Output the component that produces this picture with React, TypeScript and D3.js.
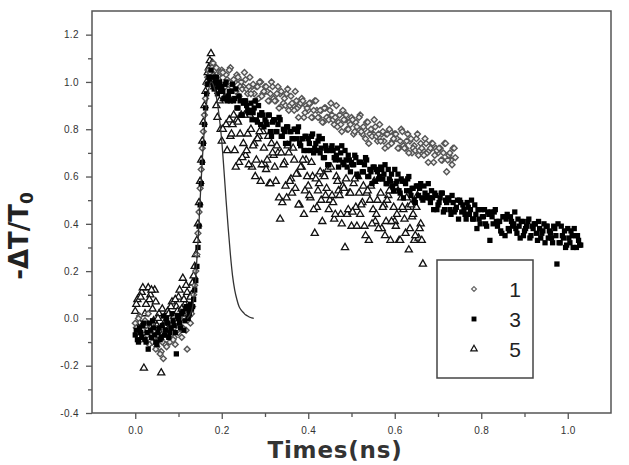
import React, { useEffect, useRef } from "react";
import * as d3 from "d3";

// sampling times (ns) of the first pass, shared by the three scans
const times = [
  0, 0.005, 0.01, 0.015, 0.02, 0.025, 0.03, 0.035, 0.04, 0.045,
  0.05, 0.055, 0.06, 0.065, 0.07, 0.075, 0.08, 0.085, 0.09, 0.095,
  0.1, 0.105, 0.11, 0.115, 0.12, 0.125, 0.13, 0.135, 0.14, 0.145,
  0.15, 0.155, 0.16, 0.165, 0.17, 0.175, 0.18, 0.185, 0.19, 0.195,
  0.2, 0.205, 0.21, 0.215, 0.22, 0.225, 0.23, 0.235, 0.24, 0.245,
  0.25, 0.255, 0.26, 0.265, 0.27, 0.275, 0.28, 0.285, 0.29, 0.295,
  0.3, 0.305, 0.31, 0.315, 0.32, 0.325, 0.33, 0.335, 0.34, 0.345,
  0.35, 0.355, 0.36, 0.365, 0.37, 0.375, 0.38, 0.385, 0.39, 0.395,
  0.4, 0.405, 0.41, 0.415, 0.42, 0.425, 0.43, 0.435, 0.44, 0.445,
  0.45, 0.455, 0.46, 0.465, 0.47, 0.475, 0.48, 0.485, 0.49, 0.495,
  0.5, 0.505, 0.51, 0.515, 0.52, 0.525, 0.53, 0.535, 0.54, 0.545,
  0.55, 0.555, 0.56, 0.565, 0.57, 0.575, 0.58, 0.585, 0.59, 0.595,
  0.6, 0.605, 0.61, 0.615, 0.62, 0.625, 0.63, 0.635, 0.64, 0.645,
  0.65, 0.655, 0.66, 0.665, 0.67, 0.675, 0.68, 0.685, 0.69, 0.695,
  0.7, 0.705, 0.71, 0.715, 0.72, 0.725, 0.73, 0.735, 0.74, 0.745,
  0.75, 0.755, 0.76, 0.765, 0.77, 0.775, 0.78, 0.785, 0.79, 0.795,
  0.8, 0.805, 0.81, 0.815, 0.82, 0.825, 0.83, 0.835, 0.84, 0.845,
  0.85, 0.855, 0.86, 0.865, 0.87, 0.875, 0.88, 0.885, 0.89, 0.895,
  0.9, 0.905, 0.91, 0.915, 0.92, 0.925, 0.93, 0.935, 0.94, 0.945,
  0.95, 0.955, 0.96, 0.965, 0.97, 0.975, 0.98, 0.985, 0.99, 0.995,
  1, 1.005, 1.01, 1.015, 1.02, 1.025, 1.03,
];

// sampling times of the second pass (interleaved)
const times2 = [
  0.0025, 0.0075, 0.0125, 0.0175, 0.0225, 0.0275, 0.0325, 0.0375, 0.0425, 0.0475,
  0.0525, 0.0575, 0.0625, 0.0675, 0.0725, 0.0775, 0.0825, 0.0875, 0.0925, 0.0975,
  0.1025, 0.1075, 0.1125, 0.1175, 0.1225, 0.1275, 0.1325, 0.1375, 0.1425, 0.1475,
  0.1525, 0.1575, 0.1625, 0.1675, 0.1725, 0.1775, 0.1825, 0.1875, 0.1925, 0.1975,
  0.2025, 0.2075, 0.2125, 0.2175, 0.2225, 0.2275, 0.2325, 0.2375, 0.2425, 0.2475,
  0.2525, 0.2575, 0.2625, 0.2675, 0.2725, 0.2775, 0.2825, 0.2875, 0.2925, 0.2975,
  0.3025, 0.3075, 0.3125, 0.3175, 0.3225, 0.3275, 0.3325, 0.3375, 0.3425, 0.3475,
  0.3525, 0.3575, 0.3625, 0.3675, 0.3725, 0.3775, 0.3825, 0.3875, 0.3925, 0.3975,
  0.4025, 0.4075, 0.4125, 0.4175, 0.4225, 0.4275, 0.4325, 0.4375, 0.4425, 0.4475,
  0.4525, 0.4575, 0.4625, 0.4675, 0.4725, 0.4775, 0.4825, 0.4875, 0.4925, 0.4975,
  0.5025, 0.5075, 0.5125, 0.5175, 0.5225, 0.5275, 0.5325, 0.5375, 0.5425, 0.5475,
  0.5525, 0.5575, 0.5625, 0.5675, 0.5725, 0.5775, 0.5825, 0.5875, 0.5925, 0.5975,
  0.6025, 0.6075, 0.6125, 0.6175, 0.6225, 0.6275, 0.6325, 0.6375, 0.6425, 0.6475,
  0.6525, 0.6575, 0.6625, 0.6675, 0.6725, 0.6775, 0.6825, 0.6875, 0.6925, 0.6975,
  0.7025, 0.7075, 0.7125, 0.7175, 0.7225, 0.7275, 0.7325, 0.7375, 0.7425, 0.7475,
  0.7525, 0.7575, 0.7625, 0.7675, 0.7725, 0.7775, 0.7825, 0.7875, 0.7925, 0.7975,
  0.8025, 0.8075, 0.8125, 0.8175, 0.8225, 0.8275, 0.8325, 0.8375, 0.8425, 0.8475,
  0.8525, 0.8575, 0.8625, 0.8675, 0.8725, 0.8775, 0.8825, 0.8875, 0.8925, 0.8975,
  0.9025, 0.9075, 0.9125, 0.9175, 0.9225, 0.9275, 0.9325, 0.9375, 0.9425, 0.9475,
  0.9525, 0.9575, 0.9625, 0.9675, 0.9725, 0.9775, 0.9825, 0.9875, 0.9925, 0.9975,
  1.0025, 1.0075, 1.0125, 1.0175, 1.0225, 1.0275,
];

// scan "1" (open diamonds)
const series1 = [
  -0.02, -0.06, 0.01, -0.04, -0.08, -0.03, 0.02, -0.07, -0.1, -0.05,
  -0.12, -0.09, -0.14, -0.17, -0.11, -0.06, -0.1, -0.03, -0.08, -0.02,
  -0.06, 0, -0.04, 0.03, -0.13, 0.01, 0.02, 0.1, 0.2, 0.36,
  0.55, 0.72, 0.86, 0.99, 1.05, 1.03, 1.08, 1.05, 1.0, 1.03,
  1.05, 0.98, 1.03, 1.0, 1.06, 0.98, 1.0, 1.03, 0.94, 1.0,
  0.98, 1.01, 0.95, 1.02, 0.98, 0.95, 0.98, 0.93, 1.0, 0.95,
  0.98, 0.96, 0.92, 1.0, 0.93, 0.92, 0.98, 0.95, 0.9, 0.93,
  0.95, 0.88, 0.94, 0.9, 0.96, 0.89, 0.9, 0.93, 0.85, 0.9,
  0.88, 0.91, 0.85, 0.92, 0.88, 0.85, 0.88, 0.83, 0.89, 0.85,
  0.88, 0.86, 0.82, 0.9, 0.83, 0.82, 0.88, 0.84, 0.8, 0.83,
  0.85, 0.78, 0.83, 0.8, 0.86, 0.78, 0.8, 0.83, 0.74, 0.8,
  0.78, 0.81, 0.75, 0.82, 0.78, 0.75, 0.78, 0.73, 0.79, 0.75,
  0.78, 0.76, 0.72, 0.8, 0.73, 0.72, 0.78, 0.75, 0.7, 0.73,
  0.76, 0.69, 0.74, 0.71, 0.76, 0.7, 0.71, 0.74, 0.66, 0.72,
  0.7, 0.72, 0.67, 0.74, 0.62, 0.69, 0.67, 0.72, 0.68,
];
const series1b = [
  -0.04, 0, -0.09, -0.05, -0.01, -0.07, -0.11, -0.03, -0.08, -0.13,
  -0.07, -0.15, -0.1, -0.05, -0.12, -0.08, -0.04, -0.09, -0.11, -0.05,
  -0.03, -0.08, 0, -0.05, 0.02, -0.02, 0.05, 0.14, 0.27, 0.45,
  0.63, 0.79, 0.93, 1.02, 1.04, 1.06, 1.02, 1.06, 1.01, 1.04,
  1.04, 0.98, 1.01, 1.05, 0.98, 1.01, 0.96, 1.02, 0.98, 0.97,
  1.04, 0.97, 0.98, 0.95, 0.99, 0.92, 0.98, 1.0, 0.94, 0.96,
  0.98, 0.92, 0.95, 0.98, 0.92, 0.95, 0.89, 0.96, 0.91, 0.9,
  0.97, 0.9, 0.91, 0.88, 0.92, 0.85, 0.91, 0.92, 0.87, 0.89,
  0.91, 0.85, 0.88, 0.92, 0.85, 0.88, 0.83, 0.89, 0.85, 0.84,
  0.91, 0.84, 0.85, 0.81, 0.86, 0.79, 0.84, 0.86, 0.8, 0.82,
  0.84, 0.79, 0.81, 0.85, 0.79, 0.81, 0.76, 0.83, 0.78, 0.77,
  0.84, 0.77, 0.78, 0.75, 0.79, 0.72, 0.78, 0.8, 0.74, 0.76,
  0.78, 0.72, 0.75, 0.79, 0.72, 0.75, 0.7, 0.76, 0.72, 0.71,
  0.78, 0.71, 0.72, 0.69, 0.74, 0.66, 0.72, 0.74, 0.69, 0.71,
  0.72, 0.67, 0.7, 0.74, 0.67, 0.7, 0.65, 0.72,
];

// scan "3" (filled squares)
const series3 = [
  -0.07, -0.09, -0.04, -0.08, -0.02, -0.1, -0.13, -0.05, -0.01, -0.07,
  -0.11, -0.04, -0.08, 0.01, -0.05, -0.02, -0.06, 0.02, -0.03, -0.15,
  0, -0.04, 0.03, -0.01, 0.04, 0.02, 0.04, 0.08, 0.16, 0.3,
  0.48, 0.66, 0.82, 0.95, 1.02, 1.05, 0.99, 1.0, 0.95, 1.0,
  0.98, 0.93, 1.0, 0.94, 0.92, 0.99, 0.93, 0.89, 0.94, 0.86,
  0.91, 0.92, 0.88, 0.88, 0.84, 0.89, 0.84, 0.9, 0.82, 0.86,
  0.84, 0.82, 0.86, 0.77, 0.84, 0.79, 0.82, 0.84, 0.77, 0.79,
  0.81, 0.74, 0.79, 0.76, 0.8, 0.79, 0.74, 0.76, 0.71, 0.77,
  0.76, 0.71, 0.78, 0.72, 0.71, 0.77, 0.72, 0.68, 0.73, 0.65,
  0.71, 0.73, 0.68, 0.69, 0.64, 0.7, 0.66, 0.71, 0.64, 0.67,
  0.66, 0.65, 0.68, 0.6, 0.66, 0.62, 0.65, 0.67, 0.6, 0.62,
  0.64, 0.58, 0.62, 0.6, 0.63, 0.61, 0.57, 0.63, 0.58, 0.56,
  0.63, 0.58, 0.54, 0.59, 0.51, 0.57, 0.59, 0.54, 0.55, 0.5,
  0.56, 0.52, 0.57, 0.5, 0.53, 0.52, 0.51, 0.54, 0.46, 0.52,
  0.48, 0.51, 0.53, 0.46, 0.49, 0.5, 0.44, 0.49, 0.46, 0.5,
  0.5, 0.45, 0.46, 0.42, 0.47, 0.46, 0.42, 0.48, 0.38, 0.42,
  0.46, 0.43, 0.4, 0.45, 0.33, 0.43, 0.45, 0.41, 0.41, 0.37,
  0.43, 0.35, 0.44, 0.37, 0.41, 0.4, 0.38, 0.42, 0.34, 0.41,
  0.37, 0.39, 0.42, 0.35, 0.38, 0.4, 0.33, 0.38, 0.36, 0.4,
  0.39, 0.34, 0.36, 0.32, 0.38, 0.23, 0.32, 0.39, 0.34, 0.3,
  0.38, 0.32, 0.35, 0.38, 0.3, 0.33, 0.31,
];
const series3b = [
  -0.05, -0.1, -0.06, -0.03, -0.09, -0.06, -0.02, -0.08, -0.04, -0.1,
  -0.06, -0.09, -0.03, -0.07, 0, -0.08, -0.04, -0.01, -0.06, 0.01,
  -0.02, 0.02, -0.05, 0.05, 0, 0.06, 0.05, 0.12, 0.22, 0.39,
  0.57, 0.74, 0.89, 0.99, 1.0, 1.02, 0.97, 1.02, 0.98, 0.96,
  0.96, 0.99, 0.92, 0.96, 0.96, 0.92, 0.97, 0.89, 0.92, 0.86,
  0.92, 0.9, 0.87, 0.91, 0.87, 0.92, 0.83, 0.86, 0.87, 0.81,
  0.83, 0.86, 0.79, 0.83, 0.84, 0.79, 0.85, 0.77, 0.8, 0.74,
  0.81, 0.79, 0.76, 0.8, 0.76, 0.81, 0.73, 0.76, 0.77, 0.71,
  0.74, 0.77, 0.7, 0.74, 0.75, 0.7, 0.76, 0.68, 0.71, 0.65,
  0.72, 0.71, 0.67, 0.72, 0.67, 0.73, 0.65, 0.67, 0.69, 0.62,
  0.65, 0.69, 0.61, 0.66, 0.66, 0.62, 0.68, 0.6, 0.63, 0.57,
  0.64, 0.63, 0.59, 0.64, 0.59, 0.65, 0.57, 0.59, 0.61, 0.54,
  0.57, 0.61, 0.53, 0.58, 0.58, 0.54, 0.6, 0.52, 0.55, 0.49,
  0.56, 0.55, 0.51, 0.56, 0.51, 0.57, 0.49, 0.51, 0.53, 0.46,
  0.49, 0.53, 0.45, 0.5, 0.51, 0.46, 0.52, 0.45, 0.47, 0.42,
  0.49, 0.48, 0.44, 0.49, 0.44, 0.5, 0.42, 0.44, 0.46, 0.4,
  0.43, 0.46, 0.39, 0.44, 0.45, 0.4, 0.46, 0.39, 0.41, 0.36,
  0.43, 0.42, 0.38, 0.43, 0.39, 0.45, 0.36, 0.39, 0.41, 0.35,
  0.38, 0.41, 0.34, 0.39, 0.4, 0.36, 0.41, 0.34, 0.37, 0.32,
  0.39, 0.37, 0.34, 0.39, 0.35, 0.4, 0.32, 0.35, 0.37, 0.31,
  0.34, 0.37, 0.3, 0.35, 0.35, 0.31,
];

// scan "5" (open triangles)
const series5 = [
  0.03, 0.08, -0.02, 0.11, -0.21, 0.06, 0.13, 0.1, 0.04, 0.12,
  -0.03, 0.02, -0.23, -0.06, -0.01, 0.03, -0.04, 0.07, 0.01, 0.05,
  0.09, 0, 0.17, 0.06, 0.11, 0.04, 0.1, 0.18, 0.27, 0.4,
  0.58, 0.75, 0.9, 1.0, 1.06, 1.12, 1.03, 1.0, 0.85, 0.92,
  0.75, 0.93, 0.82, 0.94, 0.77, 0.82, 0.71, 0.84, 0.66, 0.86,
  0.74, 0.69, 0.78, 0.86, 0.64, 0.74, 0.67, 0.77, 0.58, 0.79,
  0.65, 0.67, 0.57, 0.74, 0.69, 0.58, 0.7, 0.42, 0.49, 0.66,
  0.51, 0.7, 0.59, 0.72, 0.55, 0.61, 0.48, 0.64, 0.44, 0.67,
  0.56, 0.51, 0.6, 0.36, 0.47, 0.57, 0.5, 0.61, 0.52, 0.63,
  0.5, 0.52, 0.42, 0.6, 0.54, 0.44, 0.56, 0.3, 0.44, 0.53,
  0.39, 0.57, 0.47, 0.6, 0.44, 0.49, 0.39, 0.53, 0.33, 0.56,
  0.46, 0.41, 0.5, 0.59, 0.38, 0.48, 0.41, 0.52, 0.33, 0.54,
  0.41, 0.44, 0.33, 0.51, 0.46, 0.36, 0.47, 0.38, 0.43, 0.33,
  0.47, 0.34, 0.4, 0.23,
];
const series5b = [
  0.06, -0.04, 0.09, 0.13, 0.02, -0.05, 0.08, 0.12, -0.01, 0.07,
  0, -0.08, 0.04, -0.03, -0.07, 0.02, 0.05, -0.02, 0.08, 0.03,
  0.12, 0.04, 0.08, 0.14, 0.02, 0.09, 0.15, 0.22, 0.33, 0.49,
  0.67, 0.83, 0.96, 1.04, 1.09, 1.08, 0.98, 0.9, 0.96, 0.8,
  0.8, 0.93, 0.71, 0.84, 0.78, 0.86, 0.64, 0.83, 0.78, 0.68,
  0.86, 0.71, 0.65, 0.8, 0.73, 0.6, 0.76, 0.79, 0.65, 0.72,
  0.63, 0.77, 0.57, 0.7, 0.64, 0.73, 0.51, 0.7, 0.65, 0.56,
  0.73, 0.58, 0.53, 0.67, 0.61, 0.48, 0.64, 0.67, 0.54, 0.6,
  0.52, 0.66, 0.46, 0.59, 0.54, 0.62, 0.41, 0.6, 0.55, 0.46,
  0.64, 0.49, 0.44, 0.58, 0.52, 0.4, 0.55, 0.59, 0.46, 0.53,
  0.45, 0.59, 0.39, 0.53, 0.48, 0.56, 0.35, 0.54, 0.5, 0.4,
  0.58, 0.44, 0.38, 0.53, 0.47, 0.35, 0.5, 0.54, 0.41, 0.47,
  0.39, 0.54, 0.33, 0.47, 0.42, 0.51, 0.29, 0.48, 0.44, 0.35,
  0.52, 0.38, 0.33,
];

// pump pulse (solid line)
const pulseTimes = [
  0.12, 0.13, 0.135, 0.14, 0.145, 0.15, 0.155, 0.16, 0.165, 0.17, 0.175,
  0.18, 0.185, 0.19, 0.195, 0.2, 0.205, 0.21, 0.215, 0.22, 0.225, 0.23,
  0.235, 0.24, 0.245, 0.25, 0.255, 0.26, 0.265, 0.27, 0.274,
];
const pulseValues = [
  0, 0.03, 0.08, 0.18, 0.32, 0.5, 0.67, 0.81, 0.91, 0.97, 1.0,
  0.99, 0.96, 0.91, 0.84, 0.75, 0.63, 0.5, 0.38, 0.27, 0.18, 0.12,
  0.08, 0.05, 0.035, 0.025, 0.015, 0.01, 0.005, 0.002, 0,
];

const xTicks = [0, 0.2, 0.4, 0.6, 0.8, 1.0];
const xMinorTicks = [0.1, 0.3, 0.5, 0.7, 0.9];
const yTicks = [-0.4, -0.2, 0, 0.2, 0.4, 0.6, 0.8, 1.0, 1.2];
const yMinorTicks = [-0.3, -0.1, 0.1, 0.3, 0.5, 0.7, 0.9, 1.1];
const legendLabels = ["1", "3", "5"];

const App = () => {
  const svgRef = useRef<SVGSVGElement>(null);

  useEffect(() => {
    const svg = d3.select(svgRef.current);
    svg.selectAll("*").remove();

    const left = 92, right = 611, top = 11, bottom = 413;
    const x = d3.scaleLinear().domain([-0.1, 1.1]).range([left, right]);
    const y = d3.scaleLinear().domain([-0.4, 1.3]).range([bottom, top]);

    const diamondType = (d3 as any).symbolDiamond2 || d3.symbolDiamond;
    const tri = d3.symbol().type(d3.symbolTriangle).size(22);
    const dia = d3.symbol().type(diamondType).size(22);
    const sq = d3.symbol().type(d3.symbolSquare).size(28);

    const plot = svg.append("g");

    const drawScan = (values: number[], t: number[], sym: any, fill: string, stroke: string, sw: number) => {
      plot.append("g")
        .selectAll("path")
        .data(values)
        .enter()
        .append("path")
        .attr("d", sym)
        .attr("transform", (d, i) => `translate(${x(t[i])},${y(d)})`)
        .attr("fill", fill)
        .attr("stroke", stroke)
        .attr("stroke-width", sw);
    };

    drawScan(series5, times, tri, "#fff", "#111", 1.3);
    drawScan(series5b, times2, tri, "#fff", "#111", 1.3);
    drawScan(series1, times, dia, "#eee", "#555", 1.4);
    drawScan(series1b, times2, dia, "#eee", "#555", 1.4);
    drawScan(series3, times, sq, "#000", "none", 0);
    drawScan(series3b, times2, sq, "#000", "none", 0);

    const line = d3.line<number>()
      .x((d, i) => x(pulseTimes[i]))
      .y((d) => y(d))
      .curve(d3.curveMonotoneX);

    plot.append("path")
      .datum(pulseValues)
      .attr("d", line)
      .attr("fill", "none")
      .attr("stroke", "#333")
      .attr("stroke-width", 1.3);

    // frame
    svg.append("rect")
      .attr("x", left)
      .attr("y", top)
      .attr("width", right - left)
      .attr("height", bottom - top)
      .attr("fill", "none")
      .attr("stroke", "#555")
      .attr("stroke-width", 1.5);

    const fmt = (d: any) => Number(d).toFixed(1);

    const yAxis = svg.append("g")
      .attr("transform", `translate(${left},0)`)
      .call(d3.axisLeft(y).tickValues(yTicks).tickSize(6).tickPadding(7).tickFormat(fmt));
    svg.append("g")
      .attr("transform", `translate(${left},0)`)
      .call(d3.axisLeft(y).tickValues(yMinorTicks).tickSize(4).tickFormat(() => ""));

    const xAxis = svg.append("g")
      .attr("transform", `translate(0,${bottom})`)
      .call(d3.axisBottom(x).tickValues(xTicks).tickSize(6).tickPadding(8).tickFormat(fmt));
    svg.append("g")
      .attr("transform", `translate(0,${bottom})`)
      .call(d3.axisBottom(x).tickValues(xMinorTicks).tickSize(4).tickFormat(() => ""));

    svg.selectAll(".domain").remove();
    svg.selectAll(".tick line").attr("stroke", "#555").attr("stroke-width", 1.3);
    [yAxis, xAxis].forEach((g) =>
      g.selectAll("text")
        .attr("fill", "#333")
        .style("font-family", "'Liberation Sans', Arial, sans-serif")
        .style("font-size", "10px")
        .style("letter-spacing", "0.4px")
    );

    // axis titles
    const yTitle = svg.append("text")
      .attr("transform", "translate(28,236) rotate(-90)")
      .attr("text-anchor", "middle")
      .attr("fill", "#222")
      .style("font-family", "'DejaVu Sans', sans-serif")
      .style("font-weight", "bold")
      .style("font-size", "26px");
    yTitle.append("tspan").text("-\u0394T/T");
    yTitle.append("tspan").attr("dy", "0.3em").style("font-size", "17px").text("0");

    svg.append("text")
      .attr("x", 335)
      .attr("y", 458)
      .attr("text-anchor", "middle")
      .attr("fill", "#333")
      .style("font-family", "'DejaVu Sans', sans-serif")
      .style("font-weight", "bold")
      .style("font-size", "23px")
      .style("letter-spacing", "0.8px")
      .text("Times(ns)");

    // legend
    const lg = svg.append("g");
    lg.append("rect")
      .attr("x", 437)
      .attr("y", 260)
      .attr("width", 96)
      .attr("height", 118)
      .attr("fill", "#fff")
      .attr("stroke", "#444")
      .attr("stroke-width", 1.5);

    const legendSymbols = [
      d3.symbol().type(diamondType).size(15),
      d3.symbol().type(d3.symbolSquare).size(24),
      d3.symbol().type(d3.symbolTriangle).size(18),
    ];
    const legendFill = ["#fff", "#000", "#fff"];
    const legendStroke = ["#666", "none", "#111"];
    legendLabels.forEach((label, i) => {
      const cy = 289 + i * 30;
      lg.append("path")
        .attr("d", legendSymbols[i])
        .attr("transform", `translate(474,${cy})`)
        .attr("fill", legendFill[i])
        .attr("stroke", legendStroke[i])
        .attr("stroke-width", 1.2);
      lg.append("text")
        .attr("x", 515)
        .attr("y", cy + 8)
        .attr("text-anchor", "middle")
        .attr("fill", "#222")
        .style("font-family", "'Liberation Sans', Arial, sans-serif")
        .style("font-size", "21px")
        .text(label);
    });
  }, []);

  return (
    <svg
      ref={svgRef}
      width={629}
      height={465}
      style={{ position: "absolute", left: 0, top: 0, background: "#fff" }}
    />
  );
};

export default App;
